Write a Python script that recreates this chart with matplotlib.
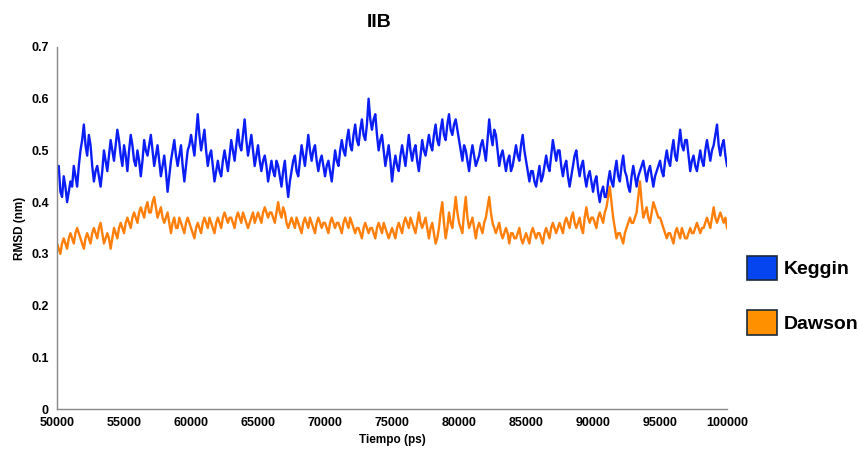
import numpy as np
import matplotlib.pyplot as plt
from matplotlib.patches import Patch

plt.rcParams['font.family'] = ['Liberation Sans', 'DejaVu Sans']

# time axis: 50000..100000 ps, every 125 ps
tiempo = np.arange(50000, 100001, 125)

keggin = [
    0.46, 0.47, 0.42, 0.41, 0.45, 0.43, 0.40, 0.42, 0.44, 0.43, 0.47, 0.45, 0.43, 0.47, 0.50, 0.52, 0.55, 0.51, 0.49, 0.53,
    0.51, 0.47, 0.44, 0.46, 0.47, 0.45, 0.43, 0.46, 0.50, 0.48, 0.46, 0.49, 0.52, 0.50, 0.48, 0.51, 0.54, 0.52, 0.49, 0.47,
    0.51, 0.49, 0.46, 0.50, 0.53, 0.51, 0.48, 0.47, 0.50, 0.48, 0.45, 0.48, 0.52, 0.50, 0.49, 0.51, 0.53, 0.50, 0.47, 0.49,
    0.51, 0.48, 0.45, 0.47, 0.49, 0.46, 0.42, 0.45, 0.48, 0.50, 0.52, 0.49, 0.47, 0.49, 0.51, 0.47, 0.44, 0.47, 0.50, 0.51,
    0.53, 0.51, 0.49, 0.53, 0.57, 0.53, 0.50, 0.52, 0.54, 0.50, 0.47, 0.49, 0.50, 0.47, 0.44, 0.46, 0.48, 0.46, 0.45, 0.48,
    0.50, 0.48, 0.46, 0.49, 0.52, 0.50, 0.48, 0.51, 0.54, 0.51, 0.50, 0.53, 0.56, 0.52, 0.49, 0.51, 0.53, 0.50, 0.47, 0.49,
    0.51, 0.48, 0.46, 0.48, 0.49, 0.47, 0.44, 0.46, 0.48, 0.46, 0.45, 0.48, 0.47, 0.45, 0.43, 0.46, 0.48, 0.44, 0.41, 0.44,
    0.46, 0.48, 0.49, 0.46, 0.45, 0.48, 0.51, 0.49, 0.47, 0.50, 0.53, 0.50, 0.48, 0.50, 0.51, 0.48, 0.46, 0.48, 0.49, 0.47,
    0.45, 0.47, 0.48, 0.46, 0.44, 0.47, 0.50, 0.48, 0.47, 0.50, 0.52, 0.50, 0.49, 0.52, 0.54, 0.51, 0.50, 0.53, 0.55, 0.52,
    0.51, 0.54, 0.56, 0.53, 0.52, 0.55, 0.60, 0.56, 0.54, 0.56, 0.57, 0.53, 0.50, 0.52, 0.53, 0.50, 0.47, 0.49, 0.51, 0.48,
    0.44, 0.47, 0.49, 0.47, 0.46, 0.49, 0.51, 0.49, 0.47, 0.50, 0.53, 0.50, 0.48, 0.50, 0.51, 0.48, 0.46, 0.49, 0.52, 0.50,
    0.49, 0.51, 0.53, 0.51, 0.50, 0.53, 0.55, 0.52, 0.51, 0.54, 0.56, 0.53, 0.52, 0.55, 0.57, 0.54, 0.53, 0.55, 0.56, 0.54,
    0.52, 0.50, 0.48, 0.51, 0.50, 0.48, 0.46, 0.49, 0.51, 0.49, 0.47, 0.48, 0.49, 0.51, 0.52, 0.50, 0.48, 0.52, 0.56, 0.53,
    0.51, 0.54, 0.53, 0.50, 0.47, 0.49, 0.50, 0.48, 0.46, 0.48, 0.49, 0.46, 0.47, 0.49, 0.51, 0.49, 0.48, 0.51, 0.53, 0.50,
    0.48, 0.46, 0.44, 0.46, 0.46, 0.44, 0.43, 0.45, 0.47, 0.44, 0.45, 0.47, 0.49, 0.47, 0.46, 0.49, 0.52, 0.50, 0.48, 0.50,
    0.50, 0.47, 0.45, 0.47, 0.48, 0.45, 0.43, 0.45, 0.47, 0.49, 0.50, 0.47, 0.45, 0.47, 0.48, 0.45, 0.43, 0.45, 0.46, 0.44,
    0.42, 0.44, 0.45, 0.42, 0.40, 0.42, 0.43, 0.41, 0.41, 0.44, 0.46, 0.44, 0.43, 0.46, 0.48, 0.45, 0.44, 0.47, 0.49, 0.46,
    0.45, 0.43, 0.42, 0.45, 0.47, 0.45, 0.43, 0.45, 0.46, 0.47, 0.48, 0.46, 0.44, 0.46, 0.47, 0.45, 0.43, 0.45, 0.46, 0.47,
    0.48, 0.46, 0.45, 0.48, 0.50, 0.48, 0.47, 0.50, 0.52, 0.49, 0.48, 0.51, 0.54, 0.51, 0.50, 0.52, 0.52, 0.49, 0.46, 0.48,
    0.49, 0.47, 0.46, 0.48, 0.50, 0.48, 0.47, 0.50, 0.52, 0.50, 0.48, 0.50, 0.51, 0.53, 0.55, 0.51, 0.49, 0.51, 0.52, 0.49,
    0.47,
]

dawson = [
    0.32, 0.31, 0.30, 0.32, 0.33, 0.32, 0.31, 0.33, 0.34, 0.33, 0.32, 0.34, 0.35, 0.34, 0.33, 0.32, 0.31, 0.33, 0.34, 0.33,
    0.32, 0.34, 0.35, 0.34, 0.33, 0.35, 0.36, 0.34, 0.32, 0.33, 0.34, 0.33, 0.31, 0.33, 0.35, 0.34, 0.33, 0.35, 0.36, 0.35,
    0.34, 0.36, 0.37, 0.36, 0.35, 0.37, 0.38, 0.37, 0.36, 0.38, 0.39, 0.38, 0.37, 0.39, 0.40, 0.38, 0.38, 0.40, 0.41, 0.39,
    0.37, 0.38, 0.39, 0.37, 0.36, 0.37, 0.38, 0.36, 0.34, 0.36, 0.37, 0.35, 0.35, 0.37, 0.36, 0.35, 0.34, 0.36, 0.37, 0.36,
    0.35, 0.34, 0.33, 0.35, 0.36, 0.35, 0.34, 0.36, 0.37, 0.36, 0.35, 0.37, 0.36, 0.35, 0.34, 0.36, 0.37, 0.36, 0.35, 0.37,
    0.38, 0.37, 0.36, 0.37, 0.37, 0.36, 0.35, 0.37, 0.38, 0.37, 0.36, 0.38, 0.37, 0.36, 0.35, 0.36, 0.37, 0.38, 0.36, 0.37,
    0.38, 0.37, 0.36, 0.38, 0.39, 0.38, 0.37, 0.38, 0.38, 0.37, 0.36, 0.38, 0.40, 0.38, 0.37, 0.39, 0.38, 0.36, 0.35, 0.36,
    0.37, 0.36, 0.35, 0.37, 0.36, 0.35, 0.34, 0.36, 0.37, 0.36, 0.35, 0.37, 0.36, 0.35, 0.34, 0.36, 0.37, 0.36, 0.35, 0.36,
    0.36, 0.35, 0.34, 0.36, 0.37, 0.36, 0.35, 0.36, 0.36, 0.35, 0.34, 0.36, 0.37, 0.36, 0.35, 0.37, 0.36, 0.35, 0.34, 0.35,
    0.35, 0.34, 0.33, 0.35, 0.36, 0.35, 0.34, 0.35, 0.35, 0.34, 0.33, 0.35, 0.36, 0.35, 0.34, 0.36, 0.35, 0.34, 0.33, 0.34,
    0.35, 0.34, 0.33, 0.35, 0.36, 0.35, 0.34, 0.36, 0.37, 0.36, 0.35, 0.37, 0.36, 0.35, 0.34, 0.36, 0.38, 0.36, 0.35, 0.36,
    0.37, 0.35, 0.33, 0.35, 0.36, 0.34, 0.32, 0.33, 0.35, 0.38, 0.40, 0.36, 0.33, 0.35, 0.38, 0.36, 0.35, 0.38, 0.41, 0.38,
    0.36, 0.35, 0.34, 0.38, 0.41, 0.37, 0.35, 0.36, 0.37, 0.35, 0.33, 0.35, 0.36, 0.35, 0.34, 0.36, 0.37, 0.39, 0.41, 0.38,
    0.36, 0.35, 0.34, 0.35, 0.36, 0.34, 0.33, 0.34, 0.35, 0.34, 0.32, 0.34, 0.34, 0.33, 0.33, 0.34, 0.35, 0.33, 0.32, 0.33,
    0.34, 0.33, 0.32, 0.34, 0.35, 0.34, 0.33, 0.34, 0.34, 0.33, 0.32, 0.34, 0.35, 0.34, 0.33, 0.35, 0.36, 0.35, 0.34, 0.35,
    0.36, 0.35, 0.34, 0.36, 0.37, 0.36, 0.35, 0.37, 0.38, 0.36, 0.35, 0.36, 0.37, 0.35, 0.34, 0.37, 0.39, 0.37, 0.36, 0.37,
    0.37, 0.36, 0.35, 0.37, 0.38, 0.37, 0.36, 0.38, 0.39, 0.41, 0.43, 0.40, 0.37, 0.35, 0.33, 0.34, 0.34, 0.33, 0.32, 0.34,
    0.35, 0.36, 0.37, 0.36, 0.36, 0.37, 0.38, 0.41, 0.44, 0.40, 0.37, 0.38, 0.39, 0.37, 0.36, 0.38, 0.40, 0.39, 0.38, 0.37,
    0.37, 0.36, 0.35, 0.34, 0.33, 0.34, 0.34, 0.33, 0.32, 0.34, 0.35, 0.34, 0.33, 0.35, 0.34, 0.33, 0.33, 0.34, 0.35, 0.34,
    0.34, 0.35, 0.36, 0.35, 0.34, 0.35, 0.35, 0.36, 0.37, 0.36, 0.35, 0.37, 0.39, 0.37, 0.36, 0.37, 0.38, 0.37, 0.36, 0.37,
    0.35,
]

x_ticks = np.arange(50000, 100001, 5000)
y_ticks = [0, 0.1, 0.2, 0.3, 0.4, 0.5, 0.6, 0.7]

fig = plt.figure(figsize=(8.59, 4.5), dpi=100)
ax = fig.add_axes([0.0664, 0.0911, 0.7800, 0.8045])

ax.plot(tiempo, keggin, color='#0a1ef5', lw=1.7)
ax.plot(tiempo, dawson, color='#ff7f0a', lw=1.7)

ax.set_xlim(50000, 100000)
ax.set_ylim(0, 0.7)
ax.set_xticks(x_ticks)
ax.set_xticklabels([str(v) for v in x_ticks], fontsize=9, fontweight='bold')
ax.set_yticks(y_ticks)
ax.set_yticklabels(['0', '0.1', '0.2', '0.3', '0.4', '0.5', '0.6', '0.7'],
                   fontsize=9, fontweight='bold')
ax.tick_params(length=0, pad=6)

for s in ['top', 'right']:
    ax.spines[s].set_visible(False)
for s in ['left', 'bottom']:
    ax.spines[s].set_color('#888888')
    ax.spines[s].set_linewidth(1)

fig.text(0.441, 0.95, 'IIB', fontsize=14, fontweight='bold', ha='center', va='center')
ax.set_xlabel('Tiempo (ps)', fontsize=8.5, fontweight='bold', labelpad=3)
ax.set_ylabel('RMSD (nm)', fontsize=8.5, fontweight='bold', labelpad=4)

handles = [Patch(facecolor='#0445f0', edgecolor='#1a2a3a', lw=1.2, label='Keggin'),
           Patch(facecolor='#ff9000', edgecolor='#1a2a3a', lw=1.2, label='Dawson')]
fig.legend(handles=handles, loc='center left', bbox_to_anchor=(0.8696, 0.344),
           frameon=False, prop={'size': 14, 'weight': 'bold'}, borderpad=0,
           borderaxespad=0, handlelength=1.55, handleheight=1.55,
           labelspacing=1.55, handletextpad=0.36)

fig.savefig('out.png', dpi=100)
